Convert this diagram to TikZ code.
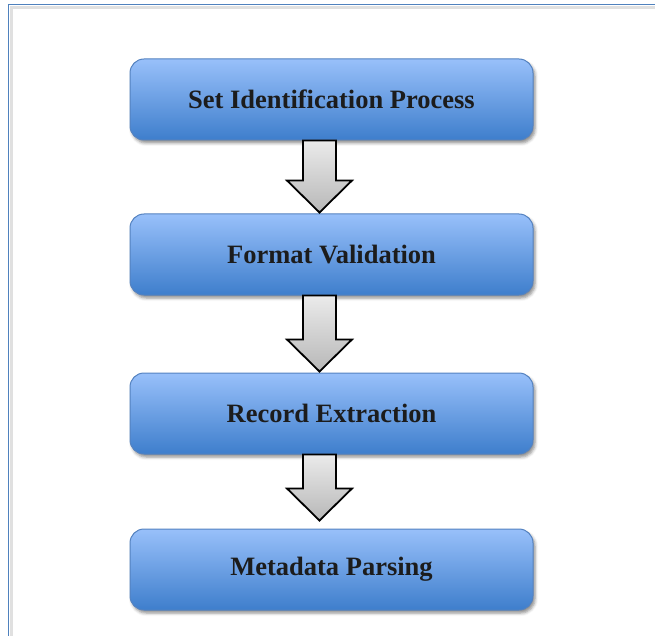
\documentclass[tikz,border=0pt]{standalone}
\usepackage{fontspec}
\setmainfont{Liberation Serif}
\usetikzlibrary{calc,shadows.blur}
\definecolor{frameblue}{RGB}{79,129,189}
\definecolor{boxtop}{RGB}{152,192,250}
\definecolor{boxbot}{RGB}{62,126,204}
\definecolor{boxline}{RGB}{84,130,192}
\definecolor{txt}{RGB}{28,28,28}
\tikzset{
  procbox/.style={draw=boxline, line width=1pt, rounded corners=14pt,
    minimum width=403pt, minimum height=81pt, inner sep=0pt,
    top color=boxtop, bottom color=boxbot,
    font=\fontsize{26.5}{30}\selectfont\bfseries, text=txt,
    blur shadow={shadow xshift=2pt, shadow yshift=-3pt, shadow blur radius=3pt, shadow opacity=45}},
  bigarrow/.style={draw=black, line width=1.8pt, line join=miter,
    top color=black!8, bottom color=black!28}
}
\newcommand{\downarrowshape}[2]{% #1 start coordinate name, #2 tip coordinate name
  \path[bigarrow] let \p1=(#1), \p2=(#2) in
    (\x1-16.5pt,\y1) -- (\x1+16.5pt,\y1) -- (\x1+16.5pt,\y2+32pt) -- (\x1+32.5pt,\y2+32pt)
    -- (\x2,\y2) -- (\x1-32.5pt,\y2+32pt) -- (\x1-16.5pt,\y2+32pt) -- cycle;
}
\begin{document}
\begin{tikzpicture}[x=1pt,y=-1pt]
\useasboundingbox (0,0) rectangle (655,636);
% page frame
\draw[black!12, line width=3pt] (655,7.5) -- (11.5,7.5) -- (11.5,636);
\draw[frameblue, line width=1.8pt] (655,4.5) -- (8.5,4.5) -- (8.5,636);

\node[procbox] (b1) at (331.5,99.5) {Set Identification Process};
\node[procbox] (b2) at (331.5,254.5) {Format Validation};
\node[procbox] (b3) at (331.5,413.5) {Record Extraction};
\node[procbox] (b4) at (331.5,569.5) {Metadata Parsing};

\coordinate (s1) at ($(b1.south)+(-12,0)$);
\coordinate (t1) at ($(b2.north)+(-12,-1)$);
\coordinate (s2) at ($(b2.south)+(-12,0)$);
\coordinate (t2) at ($(b3.north)+(-12,-1)$);
\coordinate (s3) at ($(b3.south)+(-12,0)$);
\coordinate (t3) at ($(b4.north)+(-12,-8)$);

\downarrowshape{s1}{t1}
\downarrowshape{s2}{t2}
\downarrowshape{s3}{t3}
\end{tikzpicture}
\end{document}
